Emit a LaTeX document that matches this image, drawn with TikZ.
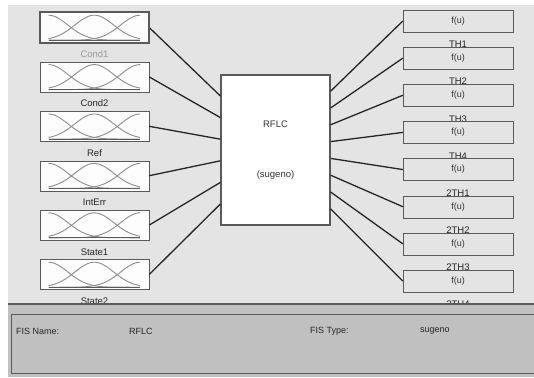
\documentclass[tikz,border=0pt]{standalone}
\usepackage{fontspec}
\setmainfont{Liberation Sans}
\usetikzlibrary{calc}
\definecolor{fondo}{HTML}{E4E4E4}
\definecolor{panel}{HTML}{C0C0C0}
\definecolor{borde}{HTML}{5A5A5A}
\definecolor{curva}{HTML}{8C8C8C}
\tikzset{
  entrada/.style={draw=borde, fill=white!92!fondo, minimum width=109pt,
    minimum height=30pt, inner sep=0pt},
  salida/.style={draw=borde, fill=fondo, minimum width=110pt,
    minimum height=22pt, inner sep=0pt, font=\fontsize{9}{11}\selectfont, text=black!80},
  etiqueta/.style={inner sep=0pt, font=\fontsize{9.5}{11}\selectfont},
  conector/.style={line width=1.3pt, black!85},
  curvamf/.style={curva, line width=0.9pt},
  texto/.style={anchor=west, inner sep=0pt, font=\fontsize{9}{11}\selectfont, text=black!85}
}

\begin{document}
\begin{tikzpicture}[x=1pt, y=-1pt]
    \useasboundingbox (0,0) rectangle (534,377);
    % fondo gris
    \fill[fondo] (8,5) rectangle (534,304);
    % bloque central
    \node[draw=borde, line width=1.2pt, fill=white, minimum width=109pt,
      minimum height=150pt, align=center, font=\fontsize{9.5}{11}\selectfont,
      text=black!80] (rflc) at (275.5,150) {RFLC\\[39pt](sugeno)};
    % entradas con sus funciones de pertenencia
    \foreach \nombre/\tono [count=\i] in {Cond1/black!40, Cond2/black!85,
      Ref/black!85, IntErr/black!85, State1/black!85, State2/black!85} {
      \node[entrada] (in\i) at (94.5,{27.5+49.4*(\i-1)}) {};
      \node[etiqueta, text=\tono] (lin\i) at ($(in\i.south)+(0,11.5)$) {\nombre};
      \begin{scope}[shift={(in\i.south west)}, yshift=2.5pt, x=109pt, y=25pt]
        \draw[curvamf] plot[domain=0.08:0.92, samples=40]
          (\x,{exp(-((\x-0.08)^2)/0.0634)});
        \draw[curvamf] plot[domain=0.08:0.92, samples=40]
          (\x,{exp(-((\x-0.5)^2)/0.0634)});
        \draw[curvamf] plot[domain=0.08:0.92, samples=40]
          (\x,{exp(-((\x-0.92)^2)/0.0634)});
        \draw[borde, line width=1pt] (0.08,0) -- (0.92,0);
      \end{scope}
      \draw[conector] (in\i.east) -- ($(rflc.north west)!\i/7!(rflc.south west)$);
    }
    % entrada seleccionada, borde grueso
    \draw[borde, line width=2.2pt] (in1.south west) rectangle (in1.north east);
    % etiquetas de salida (debajo de las cajas)
    \foreach \nombre [count=\j] in {TH1,TH2,TH3,TH4,2TH1,2TH2,2TH3,2TH4} {
      \node[etiqueta, text=black!85] (lout\j) at (458,{21+37.14*(\j-1)+23.5}) {\nombre};
    }
    % salidas
    \foreach \j in {1,...,8} {
      \node[salida] (out\j) at (458,{21+37.14*(\j-1)}) {f(u)};
      \draw[conector] ($(rflc.north east)!\j/9!(rflc.south east)$) -- (out\j.west);
    }
    % panel inferior
    \fill[panel] (8,304) rectangle (534,377);
    \draw[borde, line width=1.5pt] (8,304) -- (534,304);
    \draw[borde, line width=1pt] (11,314) rectangle (540,373);
    \node[texto] (fisname) at (16,331) {FIS Name:};
    \node[texto] (nombrev) at (129,331) {RFLC};
    \node[texto] (fistype) at (310,331) {FIS Type:};
    \node[texto] (tipov) at (420,331) {sugeno};
\end{tikzpicture}
\end{document}
